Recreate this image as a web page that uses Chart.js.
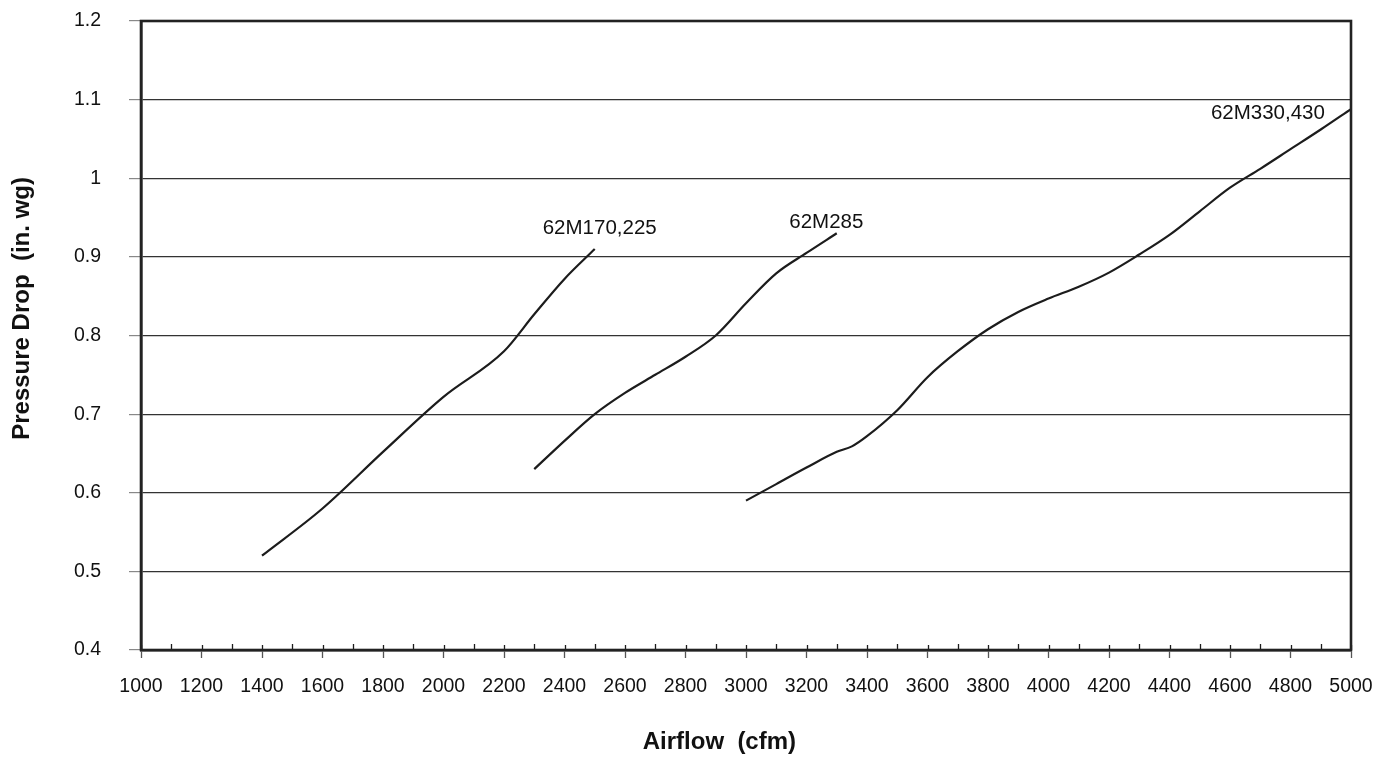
<!DOCTYPE html>
<html>
<head>
<meta charset="utf-8">
<script src="https://cdn.jsdelivr.net/npm/chart.js@4/dist/chart.umd.min.js"></script>
<style>
  html, body { margin: 0; padding: 0; background: #fff; }
  #wrap { width: 1377px; height: 758px; position: relative; }
</style>
</head>
<body>
<div id="wrap"><canvas id="c" width="1377" height="758"></canvas></div>
<script>
// ---- data ----
const seriesNames = ['62M170,225', '62M285', '62M330,430'];

const airflow170 = [1400, 1600, 1800, 2000, 2200, 2300, 2400, 2500];
const drop170    = [0.52, 0.58, 0.652, 0.722, 0.78, 0.827, 0.872, 0.91];

const airflow285 = [2300, 2400, 2500, 2600, 2700, 2800, 2900, 3000, 3100, 3200, 3300];
const drop285    = [0.63, 0.666, 0.70, 0.727, 0.75, 0.773, 0.80, 0.841, 0.879, 0.905, 0.93];

const airflow330 = [3000, 3100, 3200, 3300, 3350, 3400, 3500, 3600, 3700, 3800, 3900, 4000, 4100, 4200, 4300, 4400, 4500, 4600, 4700, 4800, 4900, 5000];
const drop330    = [0.59, 0.611, 0.632, 0.652, 0.659, 0.672, 0.705, 0.747, 0.78, 0.808, 0.83, 0.847, 0.862, 0.88, 0.903, 0.928, 0.958, 0.988, 1.012, 1.037, 1.062, 1.088];

const xTickValues = [1000, 1200, 1400, 1600, 1800, 2000, 2200, 2400, 2600, 2800, 3000, 3200, 3400, 3600, 3800, 4000, 4200, 4400, 4600, 4800, 5000];
const xTickLabels = ['1000', '1200', '1400', '1600', '1800', '2000', '2200', '2400', '2600', '2800', '3000', '3200', '3400', '3600', '3800', '4000', '4200', '4400', '4600', '4800', '5000'];
const yTickValues = [0.4, 0.5, 0.6, 0.7, 0.8, 0.9, 1.0, 1.1, 1.2];
const yTickLabels = ['0.4', '0.5', '0.6', '0.7', '0.8', '0.9', '1', '1.1', '1.2'];
const xMinorValues = [1100, 1300, 1500, 1700, 1900, 2100, 2300, 2500, 2700, 2900, 3100, 3300, 3500, 3700, 3900, 4100, 4300, 4500, 4700, 4900];

const xTitle = 'Airflow  (cfm)';
const yTitle = 'Pressure Drop  (in. wg)';

// curve labels: anchor (left edge of text, vertical middle) in data units
const labelX = [2328, 3143, 4537];
const labelY = [0.936, 0.944, 1.082];

// ---- build ----
const FONT = "'Liberation Sans', Arial, Helvetica, sans-serif";
const INK = '#1c1c1c';

function pts(xs, ys) { return xs.map((x, i) => ({ x: x, y: ys[i] })); }

const datasets = [
  { label: seriesNames[0], data: pts(airflow170, drop170) },
  { label: seriesNames[1], data: pts(airflow285, drop285) },
  { label: seriesNames[2], data: pts(airflow330, drop330) }
].map(d => Object.assign(d, {
  borderColor: INK, borderWidth: 2.2, pointRadius: 0, fill: false,
  cubicInterpolationMode: 'monotone'
}));

const decor = {
  id: 'decor',
  afterDatasetsDraw(chart) {
    const { ctx, chartArea: a, scales: { x, y } } = chart;
    ctx.save();
    // minor ticks (inside) and inner part of major ticks
    ctx.strokeStyle = INK;
    ctx.lineWidth = 1.3;
    ctx.beginPath();
    xMinorValues.forEach(v => {
      const px = Math.round(x.getPixelForValue(v)) + 0.5;
      ctx.moveTo(px, a.bottom); ctx.lineTo(px, a.bottom - 6);
    });
    xTickValues.forEach(v => {
      const px = Math.round(x.getPixelForValue(v)) + 0.5;
      ctx.moveTo(px, a.bottom); ctx.lineTo(px, a.bottom - 5);
    });
    ctx.stroke();
    // plot border
    ctx.lineWidth = 2.6;
    ctx.strokeStyle = '#222';
    ctx.strokeRect(a.left, a.top, a.right - a.left, a.bottom - a.top);
    // series labels
    ctx.fillStyle = '#111';
    ctx.font = '20.5px ' + FONT;
    ctx.textBaseline = 'middle';
    ctx.textAlign = 'left';
    seriesNames.forEach((s, i) => {
      ctx.fillText(s, x.getPixelForValue(labelX[i]), y.getPixelForValue(labelY[i]));
    });
    // axis titles
    ctx.font = 'bold 24px ' + FONT;
    ctx.textAlign = 'center';
    ctx.textBaseline = 'alphabetic';
    ctx.fillText(xTitle, a.left + (a.right - a.left) * 0.478, 749);
    ctx.translate(29, a.top + (a.bottom - a.top) * 0.457);
    ctx.rotate(-Math.PI / 2);
    ctx.fillText(yTitle, 0, 0);
    ctx.restore();
  }
};

new Chart(document.getElementById('c'), {
  type: 'line',
  data: { datasets },
  plugins: [decor],
  options: {
    responsive: false,
    animation: false,
    layout: { padding: { left: 0, top: 21, right: 26, bottom: 0 } },
    plugins: { legend: { display: false }, tooltip: { enabled: false } },
    scales: {
      x: {
        type: 'linear', min: 1000, max: 5000,
        afterBuildTicks: s => { s.ticks = xTickValues.map(v => ({ value: v })); },
        afterFit: s => { s.height = 108; s.paddingLeft = 0; s.paddingRight = 0; },
        ticks: {
          autoSkip: false, maxRotation: 0, padding: 17, color: '#111',
          font: { family: FONT, size: 19.5 },
          callback: (v) => xTickLabels[xTickValues.indexOf(v)]
        },
        grid: { drawOnChartArea: false, drawTicks: true, tickLength: 8, tickColor: '#555', tickWidth: 1.3 },
        border: { display: true, color: '#222', width: 2.6 }
      },
      y: {
        type: 'linear', min: 0.4, max: 1.2,
        afterBuildTicks: s => { s.ticks = yTickValues.map(v => ({ value: v })); },
        afterFit: s => { s.width = 141; s.paddingTop = 0; s.paddingBottom = 0; },
        ticks: {
          padding: 28, color: '#111',
          font: { family: FONT, size: 19.5 },
          callback: (v) => yTickLabels[yTickValues.findIndex(t => Math.abs(t - v) < 1e-9)]
        },
        grid: { color: '#333', lineWidth: 1.2, drawTicks: true, tickLength: 12, tickColor: '#888' },
        border: { display: true, color: '#222', width: 2.6 }
      }
    }
  }
});
</script>
</body>
</html>
